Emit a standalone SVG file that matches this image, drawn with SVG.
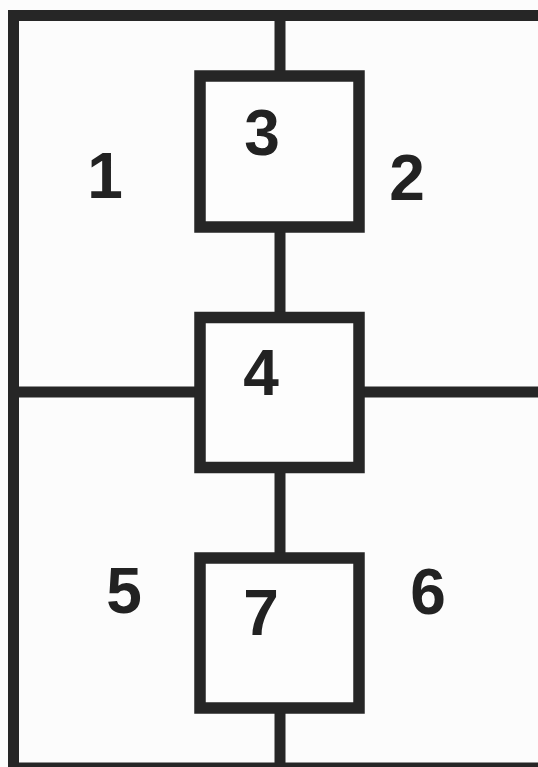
<svg xmlns="http://www.w3.org/2000/svg" width="538" height="767" viewBox="0 0 538 767">
<style>
.ln{stroke:#262626;stroke-width:11;fill:none;stroke-linecap:butt}
.box{stroke:#262626;stroke-width:11.5;fill:#fdfdfd}
.lbl{font-family:"Liberation Sans",Arial,sans-serif;font-weight:bold;font-size:64px;fill:#222;text-anchor:middle}
</style>
<rect width="538" height="767" fill="#fcfcfc"/>
<g id="connectors">
<path class="ln" d="M13.5,767 V15.5 H538"/>
<path class="ln" d="M8,768 H538"/>
<path class="ln" d="M280,15 V72 M280,231 V314 M280,471 V554 M280,712 V768"/>
<path class="ln" d="M13,392 H196 M362,392 H538"/>
</g>
<g id="region1"><text class="lbl" x="105" y="198">1</text></g>
<g id="region2"><text class="lbl" x="407" y="200">2</text></g>
<g id="node3"><rect class="box" x="200" y="76" width="159" height="151"/><text class="lbl" x="262" y="155">3</text></g>
<g id="node4"><rect class="box" x="200" y="317.5" width="159" height="150"/><text class="lbl" x="261" y="395">4</text></g>
<g id="region5"><text class="lbl" x="124" y="613">5</text></g>
<g id="region6"><text class="lbl" x="428" y="614">6</text></g>
<g id="node7"><rect class="box" x="200" y="558" width="159" height="150"/><text class="lbl" x="261" y="635">7</text></g>
</svg>
